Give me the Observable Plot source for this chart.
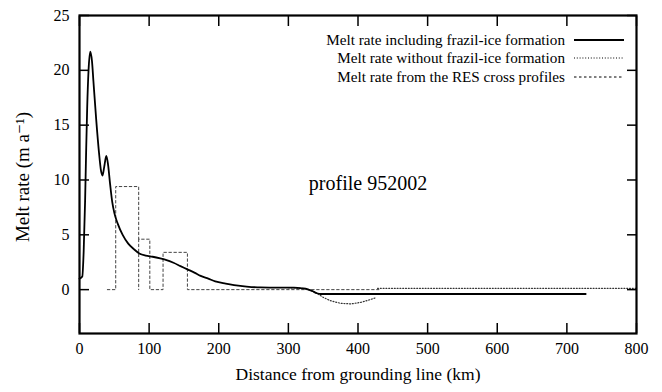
<!DOCTYPE html>
<html>
<head>
<meta charset="utf-8">
<script src="https://cdn.jsdelivr.net/npm/d3@7"></script>
<script src="https://cdn.jsdelivr.net/npm/@observablehq/plot@0.6"></script>
<style>
  html, body { margin: 0; padding: 0; background: white; }
  #wrap { position: relative; width: 662px; height: 392px; font-family: "Liberation Serif", "Times New Roman", Times, "DejaVu Serif", serif; }
  #wrap svg text { font-family: "Liberation Serif", "Times New Roman", Times, "DejaVu Serif", serif !important; }
  #legend { position: absolute; right: 38px; top: 31px; font-size: 15.2px; color: #000; }
  #legend .row { display: flex; align-items: center; justify-content: flex-end; height: 18.3px; }
  #legend svg { margin-left: 9px; }
  #ylabel { position: absolute; left: 22px; top: 177px; font-size: 19px; white-space: nowrap;
            transform: translate(-50%, -50%) rotate(-90deg); line-height: 1; }
</style>
</head>
<body>
<div id="wrap"><div id="legend"></div><div id="ylabel"></div></div>
<script>
// Solid: melt rate including frazil-ice formation
const frazilX = [0, 4, 6, 8, 9.5, 11, 13, 15.5, 18, 20, 24, 28, 31, 33, 35.5, 38.5, 41, 44, 47, 50, 55, 62, 70, 78, 86, 95, 105, 116, 125, 135, 145, 155, 165, 174, 185, 195, 210, 222, 240, 260, 285, 308, 320, 327, 335, 341, 346, 370, 500, 600, 727];
const frazilY = [1.0, 1.2, 3.5, 8, 12.5, 16.5, 20, 21.7, 20.8, 19, 15.5, 12.5, 10.8, 10.4, 11.2, 12.2, 11.4, 9.6, 8.0, 7.0, 6.0, 5.0, 4.2, 3.7, 3.3, 3.1, 3.0, 2.85, 2.7, 2.45, 2.15, 1.85, 1.55, 1.25, 1.0, 0.75, 0.55, 0.42, 0.28, 0.2, 0.18, 0.18, 0.12, 0.05, -0.15, -0.33, -0.4, -0.4, -0.4, -0.4, -0.4];

// Dotted: melt rate without frazil-ice formation (where it departs from solid)
const noFrazilX = [300, 320, 330, 340, 350, 360, 375, 390, 405, 418, 425];
const noFrazilY = [0.18, 0.12, 0.0, -0.3, -0.7, -1.0, -1.25, -1.3, -1.15, -0.9, -0.75];
const noFrazilTailX = [428, 500, 600, 730, 800];
const noFrazilTailY = [0.12, 0.12, 0.12, 0.12, 0.12];

// Dashed: melt rate from the RES cross profiles (step profile, in segments)
const resSeg = [0, 0, 0, 0, 0, 0, 0, 0, 0, 0, 0, 0, 1, 1];
const resX = [40, 52, 52, 85, 85, 101, 101, 120, 120, 155, 155, 430, 85, 85];
const resY = [0, 0, 9.4, 9.4, 4.6, 4.6, 0, 0, 3.4, 3.4, 0, 0, 4.6, 0];

const xTicks = [0, 100, 200, 300, 400, 500, 600, 700, 800];
const yTicks = [0, 5, 10, 15, 20, 25];
const legendLabels = ["Melt rate including frazil-ice formation", "Melt rate without frazil-ice formation", "Melt rate from the RES cross profiles"];
const profileLabel = "profile 952002";
const xLabel = "Distance from grounding line (km)";
const yLabel = "Melt rate (m a\u207B\u00B9)";

const zip = (xs, ys) => xs.map((x, i) => ({x, y: ys[i]}));
const frazil = zip(frazilX, frazilY);
const noFrazil = zip(noFrazilX, noFrazilY);
const noFrazilTail = zip(noFrazilTailX, noFrazilTailY);
const res = resX.map((x, i) => ({x, y: resY[i], s: resSeg[i]}));

const serif = "Liberation Serif, Times New Roman, Times, DejaVu Serif, serif";
const chart = Plot.plot({
  width: 662,
  height: 392,
  marginLeft: 79,
  marginRight: 26,
  marginTop: 15,
  marginBottom: 59,
  style: {fontFamily: serif, fontSize: "16px", background: "white", color: "#000"},
  x: {domain: [0, 800]},
  y: {domain: [-4, 25]},
  marks: [
    Plot.line(res, {x: "x", y: "y", z: "s", stroke: "#444", strokeWidth: 1, strokeDasharray: "2.5,2.5"}),
    Plot.line(noFrazil, {x: "x", y: "y", stroke: "#333", strokeWidth: 1.2, strokeDasharray: "1,1.8"}),
    Plot.line(noFrazilTail, {x: "x", y: "y", stroke: "#333", strokeWidth: 1.2, strokeDasharray: "1,1.8"}),
    Plot.line(frazil, {x: "x", y: "y", stroke: "#000", strokeWidth: 1.8, curve: "monotone-x"}),
    Plot.axisX({anchor: "bottom", ticks: xTicks, tickSize: -10, tickPadding: 19, tickFormat: d => String(d), label: null, strokeWidth: 1.5}),
    Plot.axisX({anchor: "top", ticks: xTicks, tickSize: -10, tickFormat: () => "", label: null, strokeWidth: 1.5}),
    Plot.axisY({anchor: "left", ticks: yTicks, tickSize: -10, tickPadding: 20, tickFormat: d => String(d), label: null, strokeWidth: 1.5}),
    Plot.axisY({anchor: "right", ticks: yTicks, tickSize: -10, tickFormat: () => "", label: null, strokeWidth: 1.5}),
    Plot.frame({stroke: "#000", strokeWidth: 2.2}),
    Plot.text([profileLabel], {frameAnchor: "middle", dx: 10, dy: 9, fontSize: 20}),
    Plot.text([xLabel], {frameAnchor: "bottom", dy: 46, fontSize: 17.5})
  ]
});
const wrap = document.getElementById("wrap");
wrap.insertBefore(chart, wrap.firstChild);
document.getElementById("ylabel").textContent = yLabel;

// legend
const dashes = ["", "1,1.8", "2.5,2.5"];
const widths = [1.8, 1.2, 1];
const legend = document.getElementById("legend");
legendLabels.forEach((lab, i) => {
  const row = document.createElement("div");
  row.className = "row";
  row.innerHTML = `<span>${lab}</span><svg width="50" height="6"><line x1="0" x2="50" y1="3" y2="3" stroke="#000" stroke-width="${widths[i]}" ${dashes[i] ? `stroke-dasharray="${dashes[i]}"` : ""}/></svg>`;
  legend.appendChild(row);
});
</script>
</body>
</html>
